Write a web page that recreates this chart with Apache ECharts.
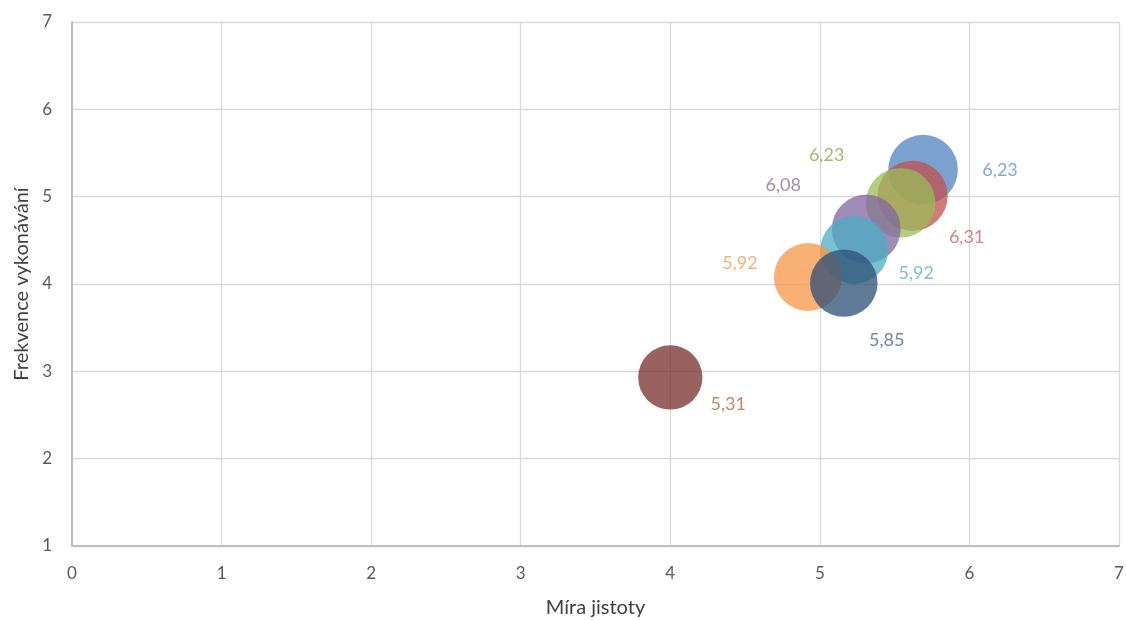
<!DOCTYPE html>
<html>
<head>
<meta charset="utf-8">
<script src="https://cdn.jsdelivr.net/npm/echarts@6/dist/echarts.min.js"></script>
<style>html,body{margin:0;padding:0;background:#fff}#c{width:1126px;height:620px}</style>
</head>
<body>
<div id="c"></div>
<script>
// Data
const seriesNames = ['Série 1','Série 2','Série 3','Série 4','Série 5','Série 6','Série 7','Série 8'];
const xValues = [5.69, 5.62, 5.54, 5.31, 5.23, 4.92, 5.16, 4.00];
const yValues = [5.31, 5.01, 4.93, 4.63, 4.39, 4.08, 4.01, 2.93];
const sizes   = [6.23, 6.31, 6.23, 6.08, 5.92, 5.92, 5.85, 5.31];
const xAxisTitle = 'Míra jistoty';
const yAxisTitle = 'Frekvence vykonávání';

// Styles
const bubbleColors = ['#4F81BD','#C0504D','#9BBB59','#8064A2','#4BACC6','#F79646','#2C4D75','#772C2A'];
const labelColors  = ['#5B8BD0','#C65B58','#84A33E','#8064A2','#4BACC6','#F79646','#3A5F8F','#B0622A'];
const labelOffsets = [[77,1],[54,41],[-74,-48],[-83,-44],[62,23],[-68,-14],[43,57],[58,27]];
const FONT = 'Lato, "Open Sans", sans-serif';

const series = seriesNames.map((name, i) => ({
  name: name,
  type: 'scatter',
  data: [[xValues[i], yValues[i], sizes[i]]],
  symbolSize: v => Math.sqrt(v[2]) * 27.9,
  itemStyle: { color: bubbleColors[i], opacity: 0.75 },
  label: {
    show: true,
    position: 'inside',
    offset: labelOffsets[i],
    formatter: p => p.value[2].toFixed(2).replace('.', ','),
    color: labelColors[i],
    fontFamily: FONT,
    fontSize: 18
  },
  z: 2 + i
}));

const chart = echarts.init(document.getElementById('c'), null, { renderer: 'canvas' });
chart.setOption({
  animation: false,
  backgroundColor: '#fff',
  grid: { left: 72, right: 7, top: 22, bottom: 74, containLabel: false, outerBoundsMode: 'none' },
  xAxis: {
    type: 'value', min: 0, max: 7, interval: 1,
    name: xAxisTitle, nameLocation: 'middle', nameGap: 52,
    nameTextStyle: { color: '#404040', fontFamily: FONT, fontSize: 20 },
    axisLine: { show: true, lineStyle: { color: '#BFBFBF', width: 2 } },
    axisTick: { show: false },
    axisLabel: { color: '#595959', fontFamily: FONT, fontSize: 17, margin: 19 },
    splitLine: { show: true, lineStyle: { color: '#D9D9D9', width: 1.3 } }
  },
  yAxis: {
    type: 'value', min: 1, max: 7, interval: 1,
    name: yAxisTitle, nameLocation: 'middle', nameGap: 40, nameRotate: 90,
    nameTextStyle: { color: '#404040', fontFamily: FONT, fontSize: 20 },
    axisLine: { show: true, onZero: false, lineStyle: { color: '#BFBFBF', width: 2 } },
    axisTick: { show: false },
    axisLabel: { color: '#595959', fontFamily: FONT, fontSize: 17, margin: 20 },
    splitLine: { show: true, lineStyle: { color: '#D9D9D9', width: 1.3 } }
  },
  series: series
});
</script>
</body>
</html>
